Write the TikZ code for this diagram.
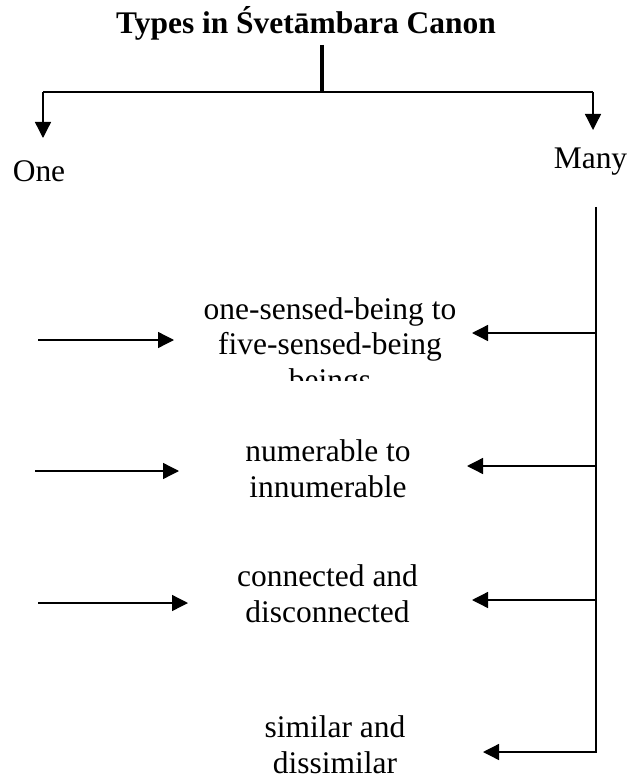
\documentclass[tikz,border=0pt]{standalone}
\usepackage{fontspec}
\setmainfont{Liberation Serif}
\usetikzlibrary{arrows.meta}
\begin{document}
\begin{tikzpicture}[x=0.75pt,y=-0.75pt,
  txt/.style={font=\fontsize{23.6}{26.3}\selectfont, align=center, inner sep=0pt, anchor=base},
  heading/.style={font=\bfseries\fontsize{23.6}{26.3}\selectfont, inner sep=0pt, anchor=base},
  link/.style={line width=1pt},
  arr/.style={link, -{Triangle[length=12pt,width=12pt]}}]
\useasboundingbox (0,0) rectangle (630,780);

% heading and its split into One / Many
\node[heading] (title) at (306,34) {Types in Śvetāmbara Canon};
\coordinate (stemtop) at (322,45);
\coordinate (fork) at (322,93);
\draw[line width=2.3pt] (stemtop) -- (fork);
\coordinate (lc) at (43,92);
\coordinate (rc) at (593,92);
\coordinate (onetip) at (43,138);
\coordinate (manytip) at (593,130);
\draw[link] (lc) -- (rc);
\draw[arr] (lc) -- (onetip);
\draw[arr] (rc) -- (manytip);
\node[txt] (one) at (39,182) {One};
\node[txt] (many) at (590.5,169) {Many};

% the four kinds (multi-line nodes sit on their last baseline)
\begin{scope}
  \clip (150,280) rectangle (510,380);
  \node[txt] (k1) at (330,390) {one-sensed-being to\\five-sensed-being\\beings};
\end{scope}
\node[txt] (k2) at (328,497) {numerable to\\innumerable};
\node[txt] (k3) at (327.5,622) {connected and\\disconnected};
\node[txt] (k4) at (335,773) {similar and\\dissimilar};

% arrows coming in from the left
\coordinate (l1) at (38,340);  \coordinate (l1t) at (174,340);
\coordinate (l2) at (35,471);  \coordinate (l2t) at (179,471);
\coordinate (l3) at (38,603);  \coordinate (l3t) at (188,603);
\draw[arr] (l1) -- (l1t);
\draw[arr] (l2) -- (l2t);
\draw[arr] (l3) -- (l3t);

% trunk under Many with its branches
\coordinate (vtop) at (596,207);
\coordinate (b1) at (596,333);  \coordinate (r1t) at (472,333);
\coordinate (b2) at (596,466);  \coordinate (r2t) at (467,466);
\coordinate (b3) at (596,600);  \coordinate (r3t) at (472,600);
\coordinate (vbot) at (596,752); \coordinate (r4t) at (483,752);
\draw[arr] (vtop) -- (vbot) -- (r4t);
\draw[arr] (b1) -- (r1t);
\draw[arr] (b2) -- (r2t);
\draw[arr] (b3) -- (r3t);
\end{tikzpicture}
\end{document}
